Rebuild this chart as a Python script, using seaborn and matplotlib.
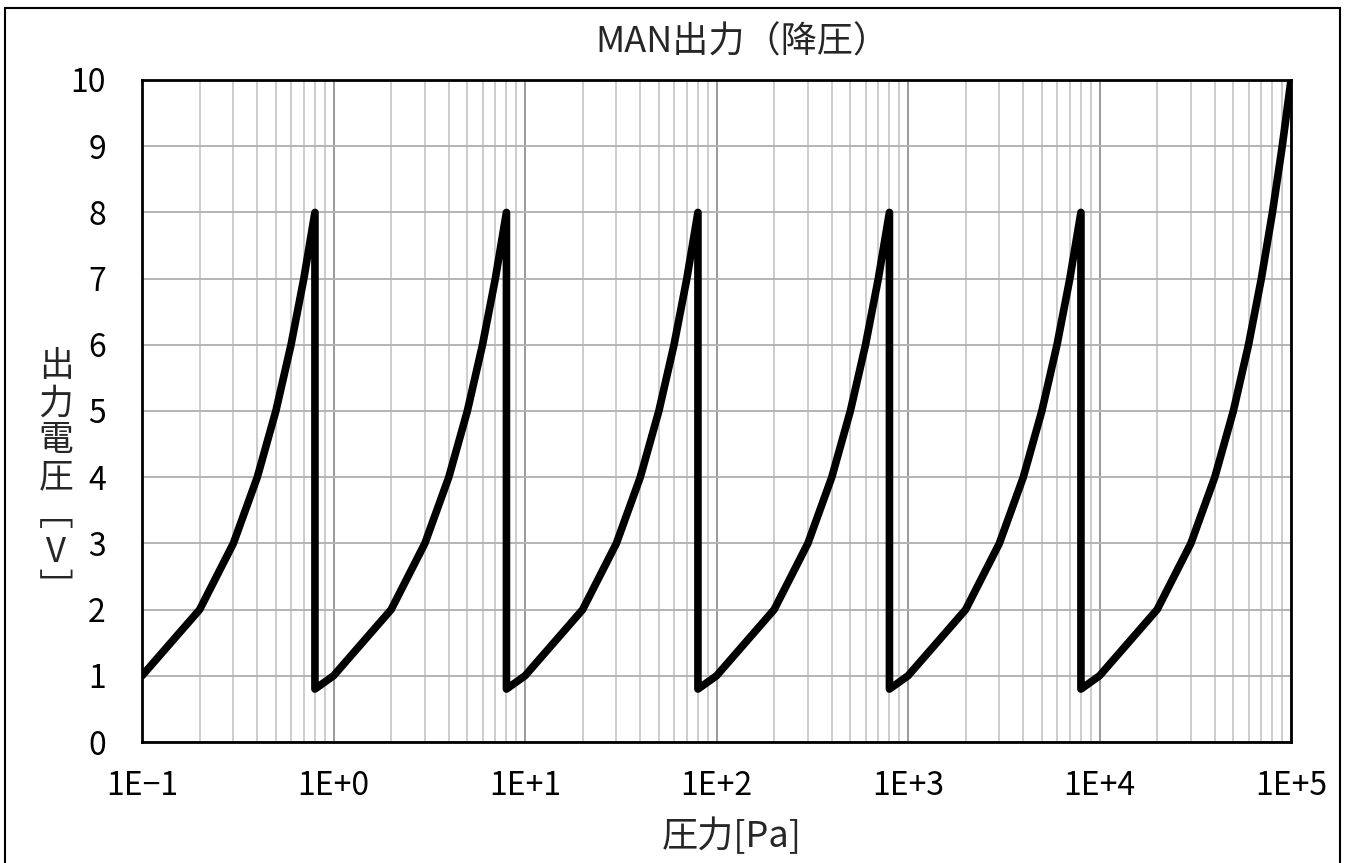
import matplotlib
matplotlib.use("Agg")
import matplotlib.pyplot as plt
import matplotlib.ticker as mticker
from matplotlib.patches import Rectangle
import numpy as np
import pandas as pd
import seaborn as sns

# Pressure [Pa] and output voltage [V] (sawtooth per decade)
pressure = [0.1, 0.2, 0.3, 0.4, 0.5, 0.6, 0.7, 0.8, 0.8,
            1, 2, 3, 4, 5, 6, 7, 8, 8,
            10, 20, 30, 40, 50, 60, 70, 80, 80,
            100, 200, 300, 400, 500, 600, 700, 800, 800,
            1000, 2000, 3000, 4000, 5000, 6000, 7000, 8000, 8000,
            10000, 20000, 30000, 40000, 50000, 60000, 70000, 80000, 90000, 100000]
voltage = [1, 2, 3, 4, 5, 6, 7, 8, 0.8,
           1, 2, 3, 4, 5, 6, 7, 8, 0.8,
           1, 2, 3, 4, 5, 6, 7, 8, 0.8,
           1, 2, 3, 4, 5, 6, 7, 8, 0.8,
           1, 2, 3, 4, 5, 6, 7, 8, 0.8,
           1, 2, 3, 4, 5, 6, 7, 8, 9, 10]

x_ticks = [0.1, 1, 10, 100, 1000, 10000, 100000]
x_tick_labels = ["1E\u22121", "1E+0", "1E+1", "1E+2", "1E+3", "1E+4", "1E+5"]
y_ticks = [0, 1, 2, 3, 4, 5, 6, 7, 8, 9, 10]

title = "MAN出力（降圧）"
xlabel = "圧力[Pa]"
ylabel_chars = ["出", "力", "電", "圧", "\ufe47", "V", "\ufe48"]

df = pd.DataFrame({"pressure": pressure, "voltage": voltage})

sns.set_style("white")
plt.rcParams['font.family'] = ['Noto Sans CJK JP', 'DejaVu Sans']

fig = plt.figure(figsize=(13.47, 8.63), dpi=100)
ax = fig.add_axes([142 / 1347, 1 - 742 / 863, (1291 - 142) / 1347, (742 - 80) / 863])

sns.lineplot(data=df, x="pressure", y="voltage", sort=False, estimator=None,
             color="black", linewidth=5.5, ax=ax,
             solid_joinstyle="round", solid_capstyle="round", zorder=5)

ax.set_xscale("log")
ax.set_xlim(0.1, 100000)
ax.set_ylim(0, 10)

ax.set_xticks(x_ticks)
ax.set_xticklabels(x_tick_labels)
ax.xaxis.set_minor_locator(mticker.LogLocator(base=10, subs=np.arange(2, 10), numticks=20))
ax.xaxis.set_minor_formatter(mticker.NullFormatter())
ax.set_yticks(y_ticks)

ax.grid(True, which="minor", axis="x", color="#c4c4c4", linewidth=1.2)
ax.grid(True, which="major", axis="x", color="#9a9a9a", linewidth=1.4)
ax.grid(True, which="major", axis="y", color="#b4b4b4", linewidth=1.4)
ax.set_axisbelow(True)

ax.tick_params(axis="both", which="major", direction="in", length=6, width=1.5,
               color="black", labelsize=23, labelcolor="black")
ax.tick_params(axis="x", which="major", pad=20)
ax.tick_params(axis="y", which="major", pad=26)
ax.tick_params(axis="x", which="minor", length=0)

for side in ["left", "bottom", "top", "right"]:
    ax.spines[side].set_visible(True)
    ax.spines[side].set_color("black")
    ax.spines[side].set_linewidth(2)

ax.set_xlabel("")
ax.set_ylabel("")
fig.text(742 / 1347, 1 - 43 / 863, title, ha="center", va="center", fontsize=26)
fig.text(732 / 1347, 1 - 836 / 863, xlabel, ha="center", va="center", fontsize=26)
fig.text(56 / 1347, 1 - 478 / 863, "\n".join(ylabel_chars), ha="center", va="center",
         fontsize=25, linespacing=1.08, family=['Noto Sans CJK JP', 'DejaVu Sans'])

# frame around the whole chart
fig.patches.append(Rectangle((5 / 1347, -0.01), 1335 / 1347, 1 - 8 / 863 + 0.01,
                             transform=fig.transFigure, fill=False,
                             edgecolor="black", linewidth=1.5))

fig.savefig("out.png", dpi=100)
